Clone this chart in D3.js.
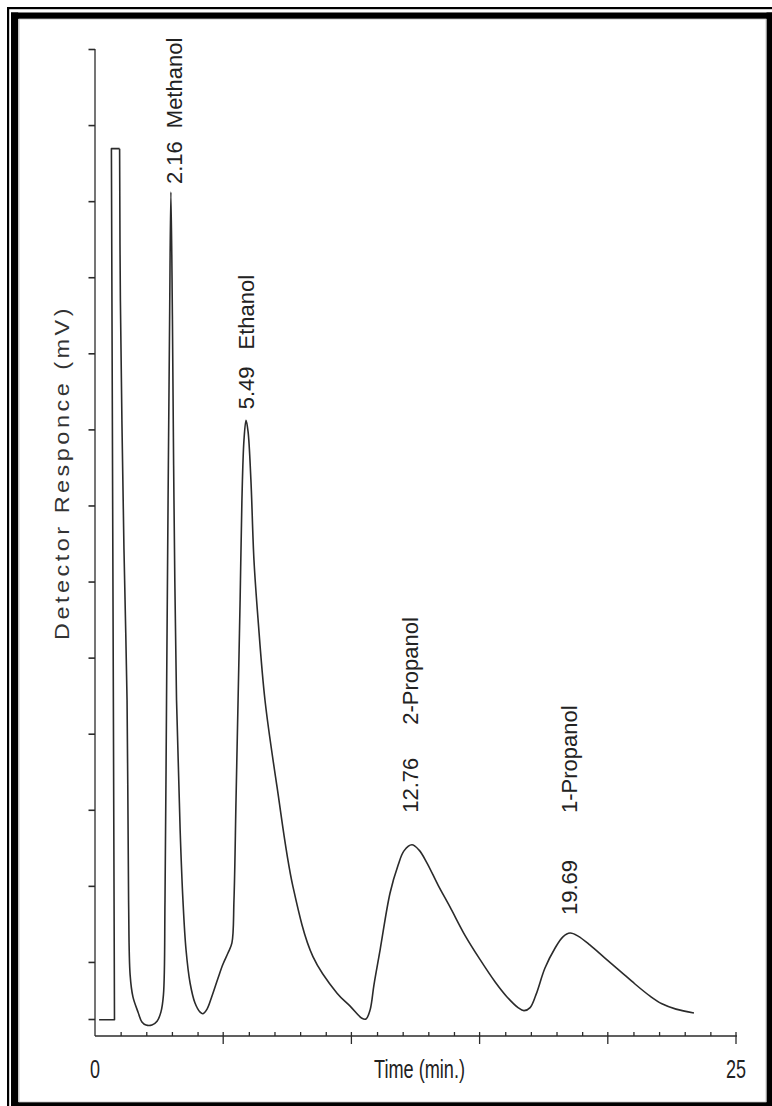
<!DOCTYPE html>
<html>
<head>
<meta charset="utf-8">
<script src="https://cdn.jsdelivr.net/npm/d3@7"></script>
<style>
  html, body { margin: 0; padding: 0; background: #fff; }
  svg { display: block; }
</style>
</head>
<body>
<svg id="chart" width="772" height="1106"></svg>
<script>
// ---- Data -------------------------------------------------------------
// Time axis (min.)
const xDomain = [0, 25];
const xMajorTicks = [5, 10, 15, 20, 25];
const xMinorTicks = [1, 2, 3, 4, 6, 7, 8, 9, 11, 12, 13, 14, 16, 17, 18, 19, 21, 22, 23, 24];
const xTickLabels = [{ t: 0, text: "0" }, { t: 25, text: "25" }];

// Detector response (mV)
const yDomain = [-7.5, 120];
const yTicks = [-7.5, 0, 10, 20, 30, 40, 50, 60, 70, 80, 90, 100, 110, 120];

// Injection / solvent front (clipped at the top of the detector range)
const solventTime = [0.16, 0.76, 0.64, 0.96];
const solventResp = [-7.6, -7.6, 106.9, 106.9];

// Chromatogram trace after the solvent front
const traceTime = [
  0.96, 0.99, 1.13, 1.25, 1.31, 1.37, 1.48, 1.68, 1.83, 1.99, 2.22, 2.42, 2.57, 2.67,
  2.73, 2.79, 2.85, 2.91, 2.96, 3.02, 3.08, 3.18, 3.32, 3.43, 3.55, 3.71, 3.90, 4.10,
  4.21, 4.37, 4.56, 4.80, 4.99, 5.19, 5.34, 5.42, 5.50, 5.58, 5.66, 5.73, 5.81, 5.89,
  5.97, 6.08, 6.20, 6.36, 6.63, 7.10, 7.72, 8.50, 9.44, 9.95, 10.41, 10.57, 10.73,
  10.88, 11.12, 11.51, 11.82, 12.05, 12.36, 12.64, 12.95, 13.38, 13.85, 14.43, 15.02,
  15.60, 16.07, 16.50, 16.73, 16.97, 17.20, 17.55, 17.94, 18.25, 18.53, 18.84, 19.31,
  19.89, 20.48, 21.06, 21.65, 22.11, 22.66, 23.36
];
const traceResp = [
  106.9, 87.0, 54.2, 34.4, 8.1, -1.7, -4.6, -6.6, -7.9, -8.3, -8.3, -7.8, -6.6, -4.3,
  8.1, 34.4, 60.7, 84.4, 101.2, 84.4, 60.7, 34.4, 17.4, 8.1, 1.6, -2.8, -5.4, -6.6,
  -6.8, -6.2, -4.5, -2.1, -0.3, 1.2, 2.5, 8.1, 21.3, 34.4, 47.6, 60.7, 68.6, 71.2,
  69.7, 63.4, 52.8, 45.0, 34.4, 23.0, 9.9, 0.7, -4.1, -5.8, -7.4, -7.5, -6.3,
  -3.0, 1.6, 9.1, 12.7, 14.6, 15.4, 14.7, 13.0, 10.1, 7.2, 3.5, 0.3,
  -2.6, -4.6, -6.0, -6.4, -6.0, -4.3, -0.8, 1.8, 3.3, 3.8, 3.4, 2.2,
  0.5, -1.2, -2.9, -4.5, -5.5, -6.2, -6.7
];

// Identified compounds and their retention times
const compounds = ["Methanol", "Ethanol", "2-Propanol", "1-Propanol"];
const retentionTimes = ["2.16", "5.49", "12.76", "19.69"];
const peakWindows = [[2.5, 3.5], [5, 7], [11, 14], [17.5, 20]];

// ---- Layout -------------------------------------------------------------
const svg = d3.select("#chart");
const W = 772, H = 1106;
const ink = "#2b2b2b";
const font = "'Liberation Sans', Arial, sans-serif";

const x = d3.scaleLinear().domain(xDomain).range([95, 736]);
const y = d3.scaleLinear().domain(yDomain).range([1019, 49]);
const axisY = 1036;

svg.append("rect").attr("width", W).attr("height", H).attr("fill", "#fff");

// Double frame: thin outer rule, heavy inner rule
const frame = svg.append("g").attr("fill", "#000");
frame.append("rect").attr("x", 7).attr("y", 7).attr("width", W - 7).attr("height", 2.2);
frame.append("rect").attr("x", 7).attr("y", 7).attr("width", 2.2).attr("height", H - 7);
frame.append("rect").attr("x", 11).attr("y", 12.5).attr("width", W - 11).attr("height", 6.5);
frame.append("rect").attr("x", 11).attr("y", 12.5).attr("width", 7.2).attr("height", H - 12.5);
frame.append("rect").attr("x", 766.5).attr("y", 12.5).attr("width", 5.5).attr("height", H - 12.5);
frame.append("rect").attr("x", 11).attr("y", 1102).attr("width", W - 11).attr("height", 4);
svg.append("rect").attr("x", 19).attr("y", 19).attr("width", 747).attr("height", 1083)
  .attr("fill", "none").attr("stroke", "#bbb").attr("stroke-width", 0.8);

// ---- Axes ---------------------------------------------------------------
const axes = svg.append("g").attr("stroke", ink).attr("stroke-width", 1.3).attr("fill", "none");

// Y axis with left-pointing ticks
axes.append("line").attr("x1", x(0)).attr("x2", x(0)).attr("y1", y(120)).attr("y2", axisY);
const yAxis = d3.axisLeft(y).tickValues(yTicks).tickSize(6.5).tickSizeOuter(0).tickFormat("");
const gy = svg.append("g").attr("transform", `translate(${x(0)},0)`).call(yAxis);
gy.select(".domain").remove();
gy.selectAll(".tick line").attr("stroke", ink).attr("stroke-width", 1.6);

// X axis: minor ticks every minute point up, major ticks every 5 min cross the line
axes.append("line").attr("x1", x(0)).attr("x2", x(25) + 1).attr("y1", axisY).attr("y2", axisY);
const xMinor = d3.axisBottom(x).tickValues(xMinorTicks).tickSize(-4).tickSizeOuter(0).tickFormat("");
const gxm = svg.append("g").attr("transform", `translate(0,${axisY})`).call(xMinor);
gxm.select(".domain").remove();
gxm.selectAll(".tick line").attr("stroke", ink).attr("stroke-width", 1.3);

axes.selectAll("line.major").data(xMajorTicks).join("line")
  .attr("class", "major")
  .attr("x1", d => x(d)).attr("x2", d => x(d))
  .attr("y1", axisY - 4).attr("y2", axisY + 8);

// X tick labels and axis title (tall condensed type)
svg.selectAll("text.xlab").data(xTickLabels).join("text")
  .attr("class", "xlab")
  .attr("x", d => x(d.t) - (d.text.length * 5))
  .attr("y", 1078)
  .attr("font-family", font).attr("font-size", 26).attr("fill", "#222")
  .attr("textLength", d => d.text.length * 10)
  .attr("lengthAdjust", "spacingAndGlyphs")
  .text(d => d.text);

svg.append("text")
  .attr("x", 374).attr("y", 1078)
  .attr("font-family", font).attr("font-size", 26).attr("fill", "#222")
  .attr("textLength", 91).attr("lengthAdjust", "spacingAndGlyphs")
  .text("Time (min.)");

// Y axis title (wide, lightly spaced)
svg.append("text")
  .attr("transform", "translate(69,640) rotate(-90)")
  .attr("font-family", font).attr("font-size", 20).attr("fill", "#333")
  .attr("letter-spacing", 3)
  .attr("textLength", 335).attr("lengthAdjust", "spacingAndGlyphs")
  .text("Detector Responce (mV)");

// ---- Trace --------------------------------------------------------------
const solvent = solventTime.map((t, i) => [t, solventResp[i]]);
const trace = traceTime.map((t, i) => [t, traceResp[i]]);

const linear = d3.line().x(d => x(d[0])).y(d => y(d[1]));
const smooth = d3.line().x(d => x(d[0])).y(d => y(d[1])).curve(d3.curveCatmullRom.alpha(0.5));

const plot = svg.append("g").attr("fill", "none").attr("stroke", ink)
  .attr("stroke-width", 1.6).attr("stroke-linejoin", "round");
plot.append("path").attr("d", linear(solvent));
plot.append("path").attr("d", smooth(trace));

// ---- Peak annotations --------------------------------------------------
// [baseline offset right of apex, gap above apex, gap between time and name]
const labelLayout = [[11, 8, 13], [8, 11, 17], [6, 32, 33], [7, 18, 47]];

compounds.forEach((name, i) => {
  const [lo, hi] = peakWindows[i];
  const apex = d3.greatest(trace.filter(d => d[0] >= lo && d[0] <= hi), d => d[1]);
  const [dx, gap, gap2] = labelLayout[i];
  const bx = x(apex[0]) + dx;
  const by = y(apex[1]) - gap;

  const num = svg.append("text")
    .attr("transform", `translate(${bx},${by}) rotate(-90)`)
    .attr("font-family", font).attr("font-size", 22).attr("fill", "#222")
    .text(retentionTimes[i]);
  const len = num.node().getComputedTextLength();

  svg.append("text")
    .attr("transform", `translate(${bx},${by - len - gap2}) rotate(-90)`)
    .attr("font-family", font).attr("font-size", 22).attr("fill", "#222")
    .text(name);
});
</script>
</body>
</html>
